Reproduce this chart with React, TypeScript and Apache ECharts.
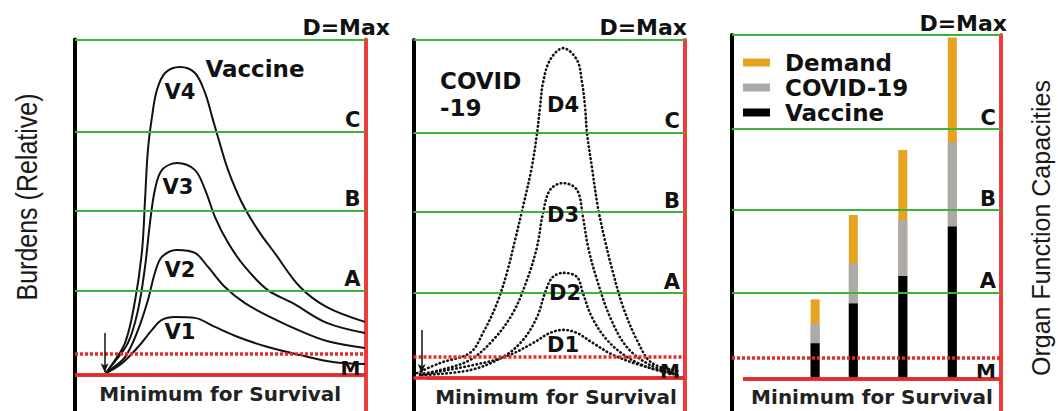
import React, { useEffect, useRef } from "react";
import * as echarts from "echarts";

// ---------------- data ----------------
const levelNames = ["A", "B", "C"];
const levelValues = [25, 49, 72.6];
const maxLevel = 100; // D = Max
const survivalLevel = 0; // Minimum for Survival
const mLevel = 6.1; // M (dotted)

const vaccineNames = ["V1", "V2", "V3", "V4"];
const vaccineV1 = [[10.7, 0.4], [16.2, 3.4], [21.7, 8.2], [26.5, 13.3], [29.9, 16.3], [34.4, 17.2], [41.3, 16.9], [48.2, 14.2], [56.1, 11.2], [66.4, 8.2], [77.5, 5.8], [88.8, 3.7], [99.8, 3.1]];
const vaccineV2 = [[10.7, 0.4], [11.4, 0.9], [17.2, 5.2], [21.7, 13.3], [25.1, 22.2], [27.5, 30.3], [29.9, 35.1], [35.1, 37.2], [41.3, 36.3], [45.8, 32.1], [51.6, 26.1], [58.5, 21.3], [67.8, 16.9], [77.5, 13.0], [86.7, 10.0], [99.8, 7.9]];
const vaccineV3 = [[10.7, 0.4], [11.4, 1.3], [18.2, 9.4], [21.7, 19.3], [24.1, 32.1], [25.8, 45.2], [27.5, 55.1], [29.9, 61.0], [35.1, 63.1], [41.3, 61.0], [44.8, 55.1], [48.2, 47.0], [52.7, 39.3], [58.5, 32.1], [66.4, 25.2], [75.0, 21.3], [86.7, 15.4], [99.8, 12.4]];
const vaccineV4 = [[10.7, 0.4], [11.4, 1.3], [17.2, 9.4], [20.7, 22.2], [23.1, 37.2], [24.1, 52.1], [25.1, 67.0], [26.5, 76.9], [28.2, 84.9], [31.0, 90.0], [36.1, 91.8], [41.3, 90.0], [44.8, 84.0], [47.2, 76.9], [49.2, 70.9], [52.7, 61.0], [57.5, 51.2], [63.0, 43.1], [68.8, 36.2], [77.5, 26.1], [86.7, 20.1], [99.8, 15.7]];

const covidNames = ["D1", "D2", "D3", "D4"];
const covidD1 = [[2.4, 0.7], [25.6, 4.3], [35.5, 6.7], [44.0, 10.2], [50.3, 13.2], [55.1, 14.1], [60.2, 13.2], [66.1, 10.2], [73.5, 6.7], [83.4, 3.7], [96.3, 1.0]];
const covidD2 = [[3.1, 0.7], [20.8, 2.2], [33.0, 6.1], [40.3, 11.1], [45.5, 17.9], [48.4, 25.0], [51.0, 29.5], [55.1, 31.0], [60.2, 29.8], [62.4, 25.0], [65.7, 17.9], [71.3, 11.1], [78.6, 6.1], [87.1, 2.8], [97.4, 0.7]];
const covidD3 = [[2.4, 1.0], [9.8, 2.2], [20.8, 5.2], [29.3, 11.1], [36.6, 19.1], [41.8, 28.9], [45.5, 38.7], [47.7, 48.7], [50.3, 55.6], [55.1, 57.6], [60.2, 55.6], [62.4, 47.6], [64.3, 38.7], [67.6, 28.9], [72.4, 17.9], [78.6, 9.0], [87.1, 3.7], [96.3, 1.3]];
const covidD4 = [[1.3, 1.3], [9.8, 4.3], [20.8, 7.3], [25.6, 13.2], [30.8, 22.1], [34.4, 31.0], [37.4, 40.7], [40.3, 50.5], [43.6, 62.4], [45.5, 72.4], [46.6, 80.1], [47.7, 87.3], [50.3, 94.1], [55.1, 97.6], [60.2, 94.1], [62.1, 87.3], [63.2, 80.1], [63.9, 72.4], [65.7, 62.4], [67.9, 50.5], [70.5, 40.7], [73.5, 31.0], [77.2, 20.9], [82.3, 11.1], [87.8, 4.3], [98.2, 1.9]];

const arrowVaccine = [[10.2, 12.4], [10.2, 0.7]];
const arrowCovid = [[3.0, 14.1], [3.0, 1.3]];

const barNames = ["Demand", "COVID-19", "Vaccine"];
const barPositions = [30.9, 45.1, 63.5, 81.9];
const vaccineBar = [10.2, 21.8, 29.8, 44.2];
const covidBar = [5.8, 11.7, 16.3, 24.5];
const demandBar = [7.0, 14.1, 20.4, 30.6];

// ---------------- layout / style ----------------
const W = 1058;
const H = 411;
const panels = [
  { left: 75, right: 365.5, top: 39.5, zero: 374.5 },
  { left: 413.5, right: 685, top: 40, zero: 377.5 },
  { left: 732, right: 1001, top: 35, zero: 378.3 },
];
const FONT = "DejaVu Sans";
const GREEN = "#3cb43c";
const RED = "#e52b2b";
const lblBase = { fontFamily: FONT, fontWeight: "bold", fontSize: 21, color: "#111" };

const yMin = (p: any) => (-(H - p.zero) / (p.zero - p.top)) * 100;

function refLines(panelIdx: number, arrow: number[][] | null) {
  const data: any[] = [];
  data.push({ yAxis: maxLevel, lineStyle: { color: GREEN, width: 2, type: "solid" } });
  levelValues.forEach((v, i) => {
    data.push({
      yAxis: v,
      name: levelNames[i],
      lineStyle: { color: GREEN, width: 2, type: "solid" },
      label: { show: true, formatter: levelNames[i], position: "insideEndTop", distance: [5, 1], ...lblBase },
    });
  });
  data.push({ yAxis: mLevel, lineStyle: { color: RED, width: 3.5, type: [3, 2] } });
  const startX = panelIdx === 2 ? 4.1 : 0;
  data.push([
    { coord: [startX, survivalLevel], lineStyle: { color: RED, width: 3.5, type: "solid" }, label: { show: true, formatter: "M", position: "insideEndTop", distance: [5, -3], ...lblBase, fontSize: 20 } },
    { coord: [100, survivalLevel] },
  ]);
  const midStart = panelIdx === 1 ? 5 : startX;
  data.push([
    { coord: [midStart, survivalLevel], lineStyle: { color: RED, width: 3.5, type: "solid" }, label: { show: true, formatter: "Minimum for Survival", position: "insideMiddleBottom", distance: 9, ...lblBase, fontSize: 20, color: "#222" } },
    { coord: [100, survivalLevel] },
  ]);
  if (arrow) {
    data.push([
      { coord: arrow[0], symbol: "none", lineStyle: { color: "#111", width: 1.5, type: "solid" } },
      { coord: arrow[1], symbol: "arrow", symbolSize: [6, 9] },
    ]);
  }
  return {
    silent: true,
    symbol: ["none", "none"],
    label: { show: false },
    data,
  };
}

function peakLabel(name: string, off: number[]) {
  return {
    symbol: "circle",
    symbolSize: 1,
    itemStyle: { color: "rgba(0,0,0,0)" },
    silent: true,
    label: { show: true, formatter: name, position: "inside", offset: off, ...lblBase },
    data: [{ type: "max" }],
  };
}

export default function App() {
  const ref = useRef<HTMLDivElement>(null);
  useEffect(() => {
    if (!ref.current) return;
    const chart = echarts.init(ref.current, null, { renderer: "svg" });

    const vaccineData = [vaccineV1, vaccineV2, vaccineV3, vaccineV4];
    const vaccineOffsets = [[5, 15], [3, 20], [1, 24], [0, 25]];
    const covidData = [covidD1, covidD2, covidD3, covidD4];
    const covidOffsets = [[0, 15], [2, 20], [0, 32], [0, 57]];

    const series: any[] = [];
    vaccineData.forEach((d, i) => {
      series.push({
        type: "line",
        name: vaccineNames[i],
        xAxisIndex: 0,
        yAxisIndex: 0,
        data: d,
        smooth: 0.35,
        symbol: "none",
        lineStyle: { color: "#111", width: 2 },
        markPoint: peakLabel(vaccineNames[i], vaccineOffsets[i]),
        markLine: i === 0 ? refLines(0, arrowVaccine) : undefined,
        z: 3,
      });
    });
    covidData.forEach((d, i) => {
      series.push({
        type: "line",
        name: covidNames[i],
        xAxisIndex: 1,
        yAxisIndex: 2,
        data: d,
        smooth: 0.35,
        symbol: "none",
        lineStyle: { color: "#111", width: 2.6, type: [0.5, 3.6], cap: "round" },
        markPoint: peakLabel(covidNames[i], covidOffsets[i]),
        markLine: i === 0 ? refLines(1, arrowCovid) : undefined,
        z: 3,
      });
    });

    // stacked segments drawn as overlapping cumulative bars (back to front)
    const covidTop = vaccineBar.map((v, k) => v + covidBar[k]);
    const demandTop = covidTop.map((v, k) => v + demandBar[k]);
    const barSets = [
      { name: "Demand", values: demandTop, color: "#e5a321" },
      { name: "COVID-19", values: covidTop, color: "#aaaaaa" },
      { name: "Vaccine", values: vaccineBar, color: "#000000" },
    ];
    barSets.forEach((b, i) => {
      series.push({
        type: "bar",
        name: b.name,
        xAxisIndex: 2,
        yAxisIndex: 4,
        barWidth: 9,
        barGap: "-100%",
        itemStyle: { color: b.color },
        data: b.values.map((v, k) => [barPositions[k], v]),
        markLine: i === 0 ? refLines(2, null) : undefined,
        z: 2 + i * 0.01,
      });
    });

    const txt = (text: string, x: number, y: number, extra: any = {}) => ({
      type: "text", x, y, z: 10,
      style: { text, fontFamily: FONT, fontWeight: "bold", fontSize: 22, fill: "#111", align: "right", verticalAlign: "middle", ...extra },
    });

    const option: any = {
      animation: false,
      backgroundColor: "#ffffff",
      grid: panels.map((p) => ({ left: p.left, top: p.top, width: p.right - p.left, height: H - p.top, containLabel: false })),
      xAxis: panels.map((p, i) => ({ type: "value", gridIndex: i, min: 0, max: 100, show: false })),
      yAxis: panels.flatMap((p, i) => [
        {
          type: "value", gridIndex: i, min: yMin(p), max: 100, position: "left",
          axisLine: { show: true, onZero: false, lineStyle: { color: "#000", width: 4 } },
          axisTick: { show: false }, axisLabel: { show: false }, splitLine: { show: false },
        },
        {
          type: "value", gridIndex: i, min: yMin(p), max: 100, position: "right",
          axisLine: { show: true, onZero: false, lineStyle: { color: "#ee3b3b", width: 4 } },
          axisTick: { show: false }, axisLabel: { show: false }, splitLine: { show: false },
        },
      ]),
      legend: {
        data: barNames,
        orient: "vertical",
        left: 738,
        top: 46,
        itemWidth: 27,
        itemHeight: 8,
        itemGap: 2,
        icon: "rect",
        selectedMode: false,
        textStyle: { fontFamily: FONT, fontWeight: "bold", fontSize: 23, color: "#111", padding: [0, 0, 0, 10] },
      },
      series,
      graphic: [
        { type: "text", x: 27, y: 197, rotation: Math.PI / 2, scaleY: 1.15, z: 10, style: { text: "Burdens (Relative)", fontFamily: "Liberation Sans", fontSize: 25, fill: "#1a1a1a", align: "center", verticalAlign: "middle" } },
        { type: "text", x: 1041, y: 228, rotation: Math.PI / 2, z: 10, style: { text: "Organ Function Capacities", fontFamily: "Liberation Sans", fontSize: 25, fill: "#1a1a1a", align: "center", verticalAlign: "middle" } },
        txt("D=Max", 390, 27),
        txt("D=Max", 687, 27),
        txt("D=Max", 1007, 23),
        txt("Vaccine", 255, 69, { fontSize: 23, align: "center" }),
        txt("COVID\n-19", 440, 67, { fontSize: 23, lineHeight: 27, align: "left", verticalAlign: "top" }),
      ],
    };
    chart.setOption(option);
    return () => chart.dispose();
  }, []);
  return <div ref={ref} style={{ position: "fixed", left: 0, top: 0, width: W, height: H, background: "#fff" }} />;
}
